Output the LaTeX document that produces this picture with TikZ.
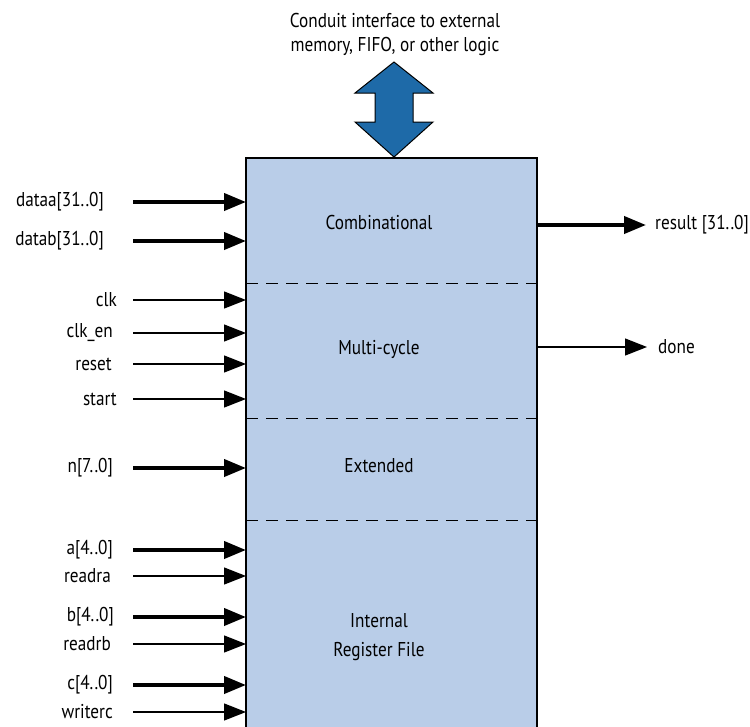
\documentclass[tikz,border=0pt]{standalone}
\usepackage{fontspec}
\setmainfont{PT Sans}[FakeStretch=0.86]
\usetikzlibrary{arrows.meta}
\definecolor{boxfill}{RGB}{185,205,232}
\definecolor{arrowblue}{RGB}{30,106,168}
\tikzset{
  sig/.style={font=\fontsize{20}{23}\selectfont, inner sep=0pt},
  lbl/.style={sig, anchor=east},
  rlbl/.style={sig, anchor=west},
  thickarr/.style={line width=4pt, -{Triangle[length=22pt,width=17pt]}},
  thinarr/.style={line width=1.3pt, -{Triangle[length=22pt,width=17pt]}},
  sep/.style={line width=1pt, dash pattern=on 12pt off 8pt},
  sect/.style={font=\fontsize{20}{29}\selectfont, align=center, inner sep=0pt}
}
\begin{document}
\begin{tikzpicture}[x=1pt,y=-1pt]
\useasboundingbox (0,0) rectangle (750,726);
% main block
\fill[boxfill] (246,158) rectangle (537,730);
\draw[line width=1.5pt] (246,730) -- (246,158) -- (537,158) -- (537,730);
% separators
\draw[sep] (246,283) -- (537,283);
\draw[sep] (246,418) -- (537,418);
\draw[sep] (246,520) -- (537,520);
% section titles
\node[sect] (comb) at (379,222) {Combinational};
\node[sect] (multi) at (379,349) {Multi-cycle};
\node[sect] (ext) at (379,466) {Extended};
\node[sect] (irf) at (379,637) {Internal\\Register File};
% conduit
\node[sig, align=center, font=\fontsize{20}{24}\selectfont] (cond) at (395,34) {Conduit interface to external\\memory, FIFO, or other logic};
\draw[fill=arrowblue, line width=1pt, line join=miter] (394,62) -- (433,93) -- (413,93) -- (413,122) -- (433,122) -- (394,157) -- (355,122) -- (375,122) -- (375,93) -- (355,93) -- cycle;
% inputs
\foreach \name/\txt/\y/\st/\lx in {
  da/{dataa[31..0]}/202/thickarr/104,
  db/{datab[31..0]}/241/thickarr/104,
  clk/{clk}/300/thinarr/117,
  clken/{clk\_en}/333/thinarr/113,
  rst/{reset}/364/thinarr/112,
  st/{start}/399/thinarr/117,
  n/{n[7..0]}/468/thickarr/113,
  a/{a[4..0]}/550/thickarr/113,
  ra/{readra}/576/thinarr/111,
  b/{b[4..0]}/617/thickarr/114,
  rb/{readrb}/644/thinarr/111,
  c/{c[4..0]}/685/thickarr/113,
  wc/{writerc}/712/thinarr/113}{
  \node[lbl] (l\name) at (\lx,\y) {\txt};
  \coordinate (s\name) at (133,\y);
  \coordinate (e\name) at (246,\y);
  \draw[\st] (s\name) -- (e\name);
}
% outputs
\coordinate (sres) at (537,225);
\coordinate (eres) at (646,225);
\draw[thickarr] (sres) -- (eres);
\node[rlbl] (lres) at (655,225) {result [31..0]};
\coordinate (sdone) at (537,347);
\coordinate (edone) at (647,347);
\draw[thinarr] (sdone) -- (edone);
\node[rlbl] (ldone) at (658,347) {done};
\end{tikzpicture}
\end{document}
